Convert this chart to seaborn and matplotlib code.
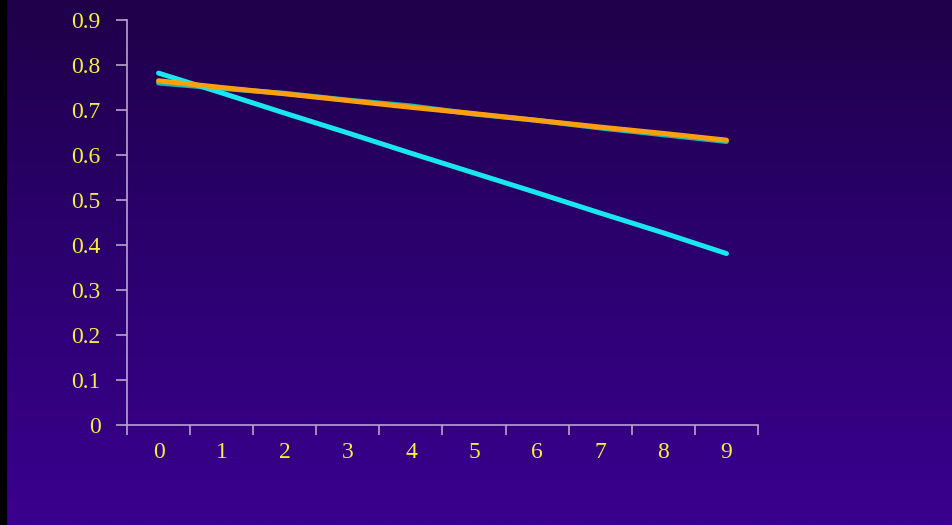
import numpy as np
import pandas as pd
import matplotlib.pyplot as plt
import seaborn as sns
from matplotlib.colors import LinearSegmentedColormap

# values
steps = [0, 1, 2, 3, 4, 5, 6, 7, 8, 9]
cyan_vals = [0.782, 0.738, 0.693, 0.649, 0.604, 0.560, 0.516, 0.471, 0.427, 0.381]
teal_vals = [0.760, 0.748, 0.737, 0.722, 0.709, 0.691, 0.677, 0.660, 0.645, 0.630]
orange_vals = [0.765, 0.750, 0.736, 0.721, 0.706, 0.692, 0.677, 0.662, 0.648, 0.633]
y_ticks = [0, 0.1, 0.2, 0.3, 0.4, 0.5, 0.6, 0.7, 0.8, 0.9]
y_labels = ["0", "0.1", "0.2", "0.3", "0.4", "0.5", "0.6", "0.7", "0.8", "0.9"]

df = pd.DataFrame({
    "step": steps * 3,
    "value": teal_vals + cyan_vals + orange_vals,
    "series": ["teal"] * 10 + ["cyan"] * 10 + ["orange"] * 10,
})
palette = {"teal": "#20b4b8", "cyan": "#19e6ee", "orange": "#ff9f10"}

sns.set_theme(style="white")
plt.rcParams["font.family"] = ["Liberation Serif", "DejaVu Serif"]

fig = plt.figure(figsize=(9.53, 5.25), dpi=100)

# gradient background
bg = fig.add_axes([0, 0, 1, 1], zorder=-10)
cmap = LinearSegmentedColormap.from_list("bg", ["#1f0049", "#2c0070", "#3a008e"])
grad = np.linspace(0, 1, 256).reshape(-1, 1)
bg.imshow(grad, aspect="auto", cmap=cmap, extent=[0, 1, 0, 1], origin="upper")
bg.axvspan(0, 6 / 953, color="black")
bg.set_xlim(0, 1)
bg.set_ylim(0, 1)
bg.axis("off")

ax = fig.add_axes([127 / 953, 1 - 425 / 525, 631 / 953, 405 / 525])
ax.patch.set_alpha(0)

sns.lineplot(data=df, x="step", y="value", hue="series", palette=palette,
             linewidth=3.6, legend=False, ax=ax,
             solid_capstyle="round")

ax.set_xlim(-0.5, 9.5)
ax.set_ylim(0, 0.9)
ax.set_xlabel("")
ax.set_ylabel("")

axis_col = "#b9a3cf"
for s in ["top", "right"]:
    ax.spines[s].set_visible(False)
for s in ["left", "bottom"]:
    ax.spines[s].set_color(axis_col)
    ax.spines[s].set_linewidth(1.2)

ax.set_xticks(steps)
ax.set_xticklabels([str(s) for s in steps])
ax.set_xticks(np.arange(-0.5, 10, 1), minor=True)
ax.tick_params(axis="x", which="major", length=0, pad=12, labelsize=17, labelcolor="#f4ef3c")
ax.tick_params(axis="x", which="minor", length=7, width=1.2, color=axis_col, direction="out", bottom=True)

ax.set_yticks(y_ticks)
ax.set_yticklabels(y_labels)
ax.tick_params(axis="y", which="major", length=8, width=1.2, color=axis_col, direction="out",
               left=True, pad=11, labelsize=17, labelcolor="#f4ef3c")

fig.savefig("out.png", dpi=100)
